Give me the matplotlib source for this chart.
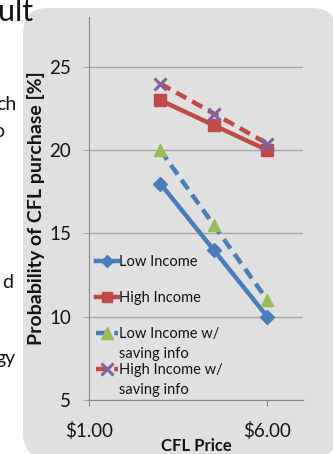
import matplotlib
matplotlib.use("Agg")
import matplotlib.pyplot as plt
from matplotlib.patches import FancyBboxPatch
from matplotlib.ticker import FixedLocator

plt.rcParams['font.family'] = ['Lato', 'DejaVu Sans']

# data
prices = [3.0, 4.5, 6.0]
low_income = [18.0, 14.0, 10.0]
high_income = [23.0, 21.5, 20.0]
low_income_info = [20.0, 15.5, 11.0]
high_income_info = [24.0, 22.2, 20.4]
series_labels = ["Low Income", "High Income", "Low Income w/", "High Income w/"]
x_ticks = [1.0, 6.0]
x_tick_labels = ["$1.00", "$6.00"]
y_ticks = [5, 10, 15, 20, 25]

W, H = 333, 454
fig = plt.figure(figsize=(W / 100, H / 100), dpi=100)
fig.patch.set_facecolor("white")

def fx(px):
    return px / W

def fy(py):
    return 1 - py / H

# grey rounded panel behind the chart
panel = FancyBboxPatch((fx(23), fy(458)), fx(337) - fx(23), fy(8) - fy(458),
                       boxstyle="round,pad=0,rounding_size=0.075",
                       transform=fig.transFigure, facecolor="#e0e0e0",
                       edgecolor="none", zorder=-5, mutation_aspect=W / H)
fig.patches.append(panel)

txt_color = "#141414"

# clipped slide text on the left
fig.text(fx(33), fy(21), "ult", fontsize=22, ha="right", va="baseline", color=txt_color)
for txt, xr, yb in [("ch", 16, 110), ("o", 4, 137), ("d", 13, 288), ("gy", 16, 364)]:
    fig.text(fx(xr), fy(yb), txt, fontsize=14, ha="right", va="baseline", color=txt_color)

ax_w = 303 - 89
ax_h = 400 - 17
ax = fig.add_axes([fx(89), fy(400), fx(303) - fx(89), fy(17) - fy(400)])
ax.set_facecolor("none")
ax.set_zorder(2)

blue, red, green, purple = "#4a7ebb", "#be4b48", "#9bbb59", "#8064a2"
lw = 3.2
ax.plot(prices, low_income, color=blue, lw=lw, marker="D", ms=7, mfc=blue, mec=blue,
        label=series_labels[0], zorder=3)
ax.plot(prices, high_income, color=red, lw=lw, marker="s", ms=8.5, mfc=red, mec=red,
        label=series_labels[1], zorder=3)
ax.plot(prices, low_income_info, color=blue, lw=lw, ls=(0, (2.6, 1.5)), marker="^", ms=9,
        mfc=green, mec=green, label=series_labels[2], zorder=3)
ax.plot(prices, high_income_info, color=red, lw=lw, ls=(0, (2.6, 1.5)), marker="x", ms=9,
        mew=2.2, mec=purple, label=series_labels[3], zorder=3)

ax.set_xlim(1, 7)
ax.set_ylim(5, 28)
ax.xaxis.set_major_locator(FixedLocator(x_ticks))
ax.set_xticklabels(x_tick_labels)
ax.yaxis.set_major_locator(FixedLocator(y_ticks))
ax.grid(axis="y", color="#a6a6a6", lw=1)
ax.set_axisbelow(True)
for s in ["top", "right"]:
    ax.spines[s].set_visible(False)
for s in ["left", "bottom"]:
    ax.spines[s].set_color("#868686")
ax.tick_params(axis="y", length=4.5, color="#a6a6a6", pad=8.5, labelsize=13.5, labelcolor=txt_color)
ax.tick_params(axis="x", length=4.5, color="#868686", pad=11, labelsize=13.5, labelcolor=txt_color)

ax.set_ylabel("Probability of CFL purchase [%]", fontsize=14, fontweight="bold",
              color=txt_color)
ax.yaxis.set_label_coords((45 - 89) / ax_w, 0.5)
ax.set_xlabel("CFL Price", fontsize=12, fontweight="bold", color=txt_color)
ax.xaxis.set_label_coords(0.5, -(438 - 400) / ax_h)

leg = ax.legend(loc="upper left", bbox_to_anchor=(0.035, (400 - 255) / ax_h), frameon=False,
                fontsize=10.5, borderpad=0, borderaxespad=0, handlelength=1.5,
                handletextpad=0.05, labelspacing=1.5, markerscale=0.9)
for t in leg.get_texts():
    t.set_color(txt_color)

# second lines of the wrapped legend labels
fig.canvas.draw()
for t in leg.get_texts()[2:]:
    bb = t.get_window_extent()
    ax.annotate("saving info", xy=(bb.x0, bb.y0), xycoords="figure pixels",
                xytext=(0, -20), textcoords="offset pixels", fontsize=10.5,
                color=txt_color, va="bottom", ha="left")

fig.savefig("out.png", dpi=100)
